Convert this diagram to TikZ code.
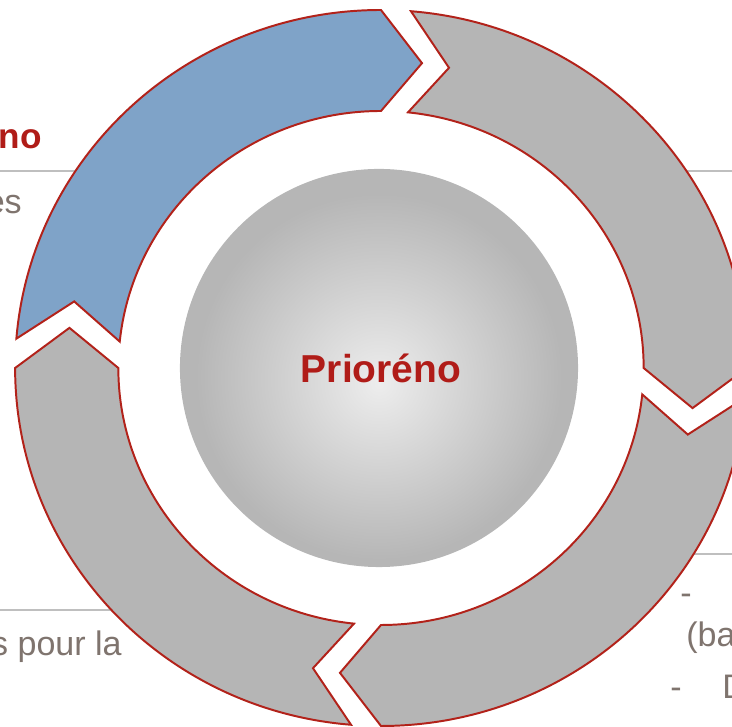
\documentclass[tikz,border=0pt]{standalone}
\usepackage{fontspec}
\setmainfont{Liberation Sans}
\usepackage{xcolor}
\usepackage{tikz}

\definecolor{ringred}{RGB}{178,34,26}
\definecolor{ringblue}{RGB}{127,163,200}
\definecolor{ringgray}{RGB}{181,181,181}
\definecolor{hublight}{RGB}{237,237,237}
\definecolor{hubdark}{RGB}{182,182,182}
\definecolor{titlered}{RGB}{176,28,24}
\definecolor{textgray}{RGB}{127,116,110}
\definecolor{framegray}{RGB}{191,191,191}

\pgfdeclareradialshading{hubshading}{\pgfpoint{0bp}{-2bp}}{color(0bp)=(hublight); color(23bp)=(hubdark); color(25bp)=(hubdark); color(50bp)=(hubdark)}

\tikzset{
  bluearrow/.style={fill=ringblue, draw=ringred, line width=1.4pt},
  grayarrow/.style={fill=ringgray, draw=ringred, line width=1.4pt},
  hubnode/.style={circle, shade, shading=hubshading, minimum size=9.95cm, inner sep=0pt},
  hubtext/.style={inner sep=0pt, anchor=base, text=titlered, font=\fontsize{27.7pt}{33pt}\selectfont\bfseries},
  sidetitle/.style={inner sep=0pt, text=titlered, font=\fontsize{25pt}{30pt}\selectfont\bfseries},
  sidetext/.style={inner sep=0pt, text=textgray, font=\fontsize{24.2pt}{29pt}\selectfont},
  frameline/.style={draw=framegray, line width=1pt}
}

\begin{document}
\begin{tikzpicture}[x=0.025cm, y=0.025cm]
\useasboundingbox (-381,-359) rectangle (351,368);

% Frame lines
\draw[frameline] (-381,197) -- (-290,197);
\draw[frameline] (290,197) -- (351,197);
\draw[frameline] (300,-186) -- (351,-186);
\draw[frameline] (-381,-242) -- (-255,-242);

% Ring arrows
\begin{scope}[xscale=1.022]
\filldraw[bluearrow] (175.3:358) arc[start angle=175.3, end angle=90, radius=358] -- (82.5:307.5)
  -- (90:257) arc[start angle=90, end angle=174.1, radius=257] -- (167.5:307.5) -- cycle;
\filldraw[grayarrow] (85.3:358) arc[start angle=85.3, end angle=0, radius=358] -- (-7.5:307.5)
  -- (0:257) arc[start angle=0, end angle=84.1, radius=257] -- (77.5:307.5) -- cycle;
\filldraw[grayarrow] (-4.7:358) arc[start angle=-4.7, end angle=-90, radius=358] -- (-97.5:307.5)
  -- (-90:257) arc[start angle=-90, end angle=-5.9, radius=257] -- (-12.5:307.5) -- cycle;
\filldraw[grayarrow] (-94.7:358) arc[start angle=-94.7, end angle=-180, radius=358] -- (-187.5:307.5)
  -- (-180:257) arc[start angle=-180, end angle=-95.9, radius=257] -- (-102.5:307.5) -- cycle;
\end{scope}

% Hub
\node[hubnode] (hub) at (-2,0) {};
\node[hubtext] (title) at (0,-15) {Prioréno};

% Side texts
\node[sidetitle, anchor=base east] (toptitle) at (-339,219) {no};
\node[sidetext, anchor=base east] (topline) at (-359,154) {es};
\node[sidetext, anchor=base east] (bottomline) at (-259,-288) {s pour la};
\node[sidetext, anchor=base west] (dashone) at (299,-237) {-};
\node[sidetext, anchor=base west] (baline) at (305,-279) {(ba};
\node[sidetext, anchor=base west] (dashtwo) at (289,-331) {-\hspace{29pt}D};

\end{tikzpicture}
\end{document}
